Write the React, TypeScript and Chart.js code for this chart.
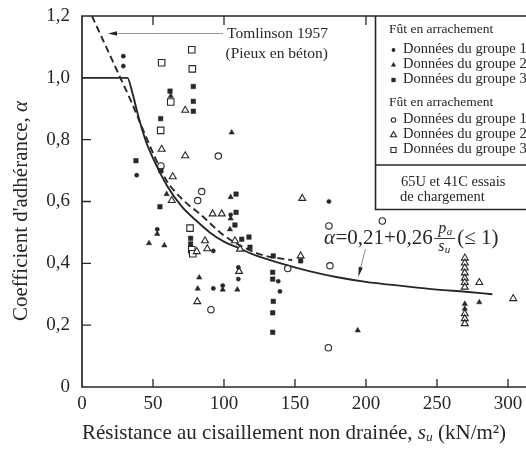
import React, { useEffect, useRef } from 'react';
import { Chart, registerables } from 'chart.js';

Chart.register(...registerables);

const FONT = "'Liberation Serif', 'Times New Roman', 'DejaVu Serif', serif";
const INK = '#272727';

// axis ticks
const xTickValues = [0, 50, 100, 150, 200, 250, 300];
const yTickValues = [0, 0.2, 0.4, 0.6, 0.8, 1.0, 1.2];

// Group 1 (filled circles)
const g1FilledX = [29.1, 29.1, 38.5, 53, 92.5, 99.1, 104.7, 110.1, 110.1, 138.2, 139.4, 173.9, 92.5];
const g1FilledY = [1.07, 1.038, 0.685, 0.51, 0.319, 0.328, 0.557, 0.387, 0.349, 0.342, 0.309, 0.6, 0.44];

// Group 2 (filled triangles)
const g2FilledX = [47.2, 53, 58, 59.6, 62.5, 105.4, 104.7, 104.2, 104.7, 82.6, 81.5, 99.1, 109.4, 194.2, 279.8, 269.6, 269.6];
const g2FilledY = [0.465, 0.495, 0.458, 0.624, 0.941, 0.823, 0.614, 0.51, 0.545, 0.354, 0.318, 0.315, 0.315, 0.183, 0.274, 0.269, 0.253];

// Group 3 (filled squares)
const g3FilledX = [38, 55.4, 55.6, 54.9, 62, 78.4, 78.4, 78.4, 76.5, 76.5, 108.5, 108.5, 107.7, 112.5, 117.6, 118.3, 134.7, 134.3, 134.3, 134.7, 134.3, 134.3, 154];
const g3FilledY = [0.732, 0.868, 0.7, 0.583, 0.957, 0.972, 0.924, 0.892, 0.481, 0.463, 0.624, 0.565, 0.524, 0.478, 0.485, 0.452, 0.424, 0.371, 0.349, 0.277, 0.24, 0.177, 0.408];

// Group 1 (open circles)
const g1OpenX = [96, 84.3, 81.5, 55.6, 90.8, 173.9, 211.5, 174.6, 144.9, 173.5];
const g1OpenY = [0.747, 0.632, 0.603, 0.715, 0.25, 0.521, 0.537, 0.392, 0.383, 0.127];

// Group 2 (open triangles)
const g2OpenX = [72.7, 56.1, 72.7, 63.9, 63.2, 92, 98.4, 107.7, 111.3, 80.8, 86.6, 88.2, 81.2, 110.6, 155.1, 154, 279.8, 303.7,
  269.6, 269.6, 269.6, 269.6, 269.6, 269.6, 269.6, 269.6, 269.6, 269.6];
const g2OpenY = [0.895, 0.769, 0.748, 0.68, 0.603, 0.56, 0.56, 0.473, 0.446, 0.438, 0.473, 0.447, 0.276, 0.374, 0.61, 0.424, 0.338, 0.286,
  0.417, 0.401, 0.385, 0.369, 0.352, 0.338, 0.323, 0.237, 0.221, 0.205];

// Group 3 (open squares)
const g3OpenX = [77.3, 77.7, 56.1, 62.5, 55.4, 76.1, 77.3, 78];
const g3OpenY = [1.091, 1.029, 1.049, 0.922, 0.83, 0.514, 0.444, 0.431];

// Solid curve alpha = 0.21 + 0.26 pa/su (<= 1)
const curveX = [0, 32, 35, 40, 45, 50, 60, 70, 80, 90, 100, 110, 120, 140, 160, 180, 200, 225, 250, 270, 289];
const curveY = [1.0, 1.0, 0.96, 0.87, 0.795, 0.74, 0.65, 0.585, 0.54, 0.5, 0.47, 0.45, 0.43, 0.4, 0.375, 0.355, 0.34, 0.327, 0.315, 0.308, 0.3];

// Tomlinson 1957 dashed curve
const tomX = [7, 17, 27, 35, 45, 59, 70, 84, 100, 125, 148];
const tomY = [1.2, 1.1, 1.0, 0.92, 0.81, 0.672, 0.61, 0.556, 0.49, 0.43, 0.41];

const zip = (xs: number[], ys: number[]) => xs.map((x, i) => ({ x, y: ys[i] }));

type Shape = 'circle' | 'triangle' | 'rect';

function mark(ctx: CanvasRenderingContext2D, shape: Shape, filled: boolean, cx: number, cy: number, r: number) {
  ctx.beginPath();
  if (shape === 'circle') {
    ctx.arc(cx, cy, r, 0, Math.PI * 2);
  } else if (shape === 'triangle') {
    ctx.moveTo(cx, cy - r);
    ctx.lineTo(cx + r * 0.866, cy + r * 0.5);
    ctx.lineTo(cx - r * 0.866, cy + r * 0.5);
    ctx.closePath();
  } else {
    const s = r * Math.SQRT1_2;
    ctx.rect(cx - s, cy - s, 2 * s, 2 * s);
  }
  if (filled) {
    ctx.fillStyle = INK;
    ctx.fill();
  } else {
    ctx.fillStyle = '#fff';
    ctx.fill();
    ctx.lineWidth = 1.1;
    ctx.strokeStyle = INK;
    ctx.stroke();
  }
}

function arrowHead(ctx: CanvasRenderingContext2D, tx: number, ty: number, fx: number, fy: number, len: number, half: number) {
  const dx = tx - fx, dy = ty - fy;
  const d = Math.hypot(dx, dy);
  const ux = dx / d, uy = dy / d;
  const bx = tx - ux * len, by = ty - uy * len;
  ctx.beginPath();
  ctx.moveTo(tx, ty);
  ctx.lineTo(bx - uy * half, by + ux * half);
  ctx.lineTo(bx + uy * half, by - ux * half);
  ctx.closePath();
  ctx.fillStyle = INK;
  ctx.fill();
}

function runs(ctx: CanvasRenderingContext2D, parts: { t: string; f: string; dy?: number }[], x: number, y: number, align: 'center' | 'left') {
  let total = 0;
  for (const p of parts) { ctx.font = p.f; total += ctx.measureText(p.t).width; }
  let cx = align === 'center' ? x - total / 2 : x;
  for (const p of parts) {
    ctx.font = p.f;
    ctx.fillText(p.t, cx, y + (p.dy || 0));
    cx += ctx.measureText(p.t).width;
  }
  return total;
}

const decor = {
  id: 'decor',
  afterDatasetsDraw(chart: any) {
    const { ctx, chartArea: a, scales } = chart;
    const xs = scales.x, ys = scales.y;
    ctx.save();
    ctx.strokeStyle = INK;
    ctx.fillStyle = INK;

    // frame
    ctx.lineWidth = 1.7;
    ctx.beginPath();
    ctx.moveTo(a.right + 2, a.top);
    ctx.lineTo(a.left, a.top);
    ctx.lineTo(a.left, a.bottom);
    ctx.lineTo(a.right + 2, a.bottom);
    ctx.stroke();

    // inner ticks
    ctx.lineWidth = 1.3;
    ctx.beginPath();
    for (const v of [50, 100, 150, 200, 250, 300]) {
      const px = xs.getPixelForValue(v);
      ctx.moveTo(px, a.bottom);
      ctx.lineTo(px, a.bottom - 8);
    }
    for (const v of [50, 100, 200]) {
      const px = xs.getPixelForValue(v);
      ctx.moveTo(px, a.top);
      ctx.lineTo(px, a.top + 9);
    }
    for (const v of [0.2, 0.4, 0.6, 0.8]) {
      const py = ys.getPixelForValue(v);
      ctx.moveTo(a.left, py);
      ctx.lineTo(a.left + 9, py);
    }
    ctx.stroke();

    // legend box
    const L = 375.5, R = a.right + 2;
    ctx.fillStyle = '#fff';
    ctx.fillRect(L, a.top + 1, R - L, 209 - a.top);
    ctx.lineWidth = 1.6;
    ctx.strokeStyle = INK;
    ctx.beginPath();
    ctx.moveTo(L, a.top);
    ctx.lineTo(L, 209.5);
    ctx.lineTo(R, 209.5);
    ctx.moveTo(L, 165);
    ctx.lineTo(R, 165);
    ctx.stroke();

    ctx.fillStyle = INK;
    ctx.textBaseline = 'middle';
    ctx.textAlign = 'left';
    const hdr = `13.5px ${FONT}`;
    const ent = `14.5px ${FONT}`;
    ctx.font = hdr;
    ctx.fillText('Fût en arrachement', 389, 29.5);
    ctx.fillText('Fût en arrachement', 389, 102.5);
    const rows: [Shape, boolean, string, number, number][] = [
      ['circle', true, 'Données du groupe 1', 49.5, 1.9],
      ['triangle', true, 'Données du groupe 2', 64.5, 3],
      ['rect', true, 'Données du groupe 3', 79.5, 3],
      ['circle', false, 'Données du groupe 1', 119.5, 2.2],
      ['triangle', false, 'Données du groupe 2', 134.5, 3.5],
      ['rect', false, 'Données du groupe 3', 149.5, 3.6],
    ];
    for (const [s, f, t, y, r] of rows) {
      mark(ctx, s, f, 393.5, y + 0.5, r);
      ctx.fillStyle = INK;
      ctx.font = ent;
      ctx.fillText(t, 403, y);
    }
    ctx.font = ent;
    ctx.fillText('65U et 41C essais', 401, 182);
    ctx.fillText('de chargement', 400, 197);

    // Tomlinson annotation
    ctx.font = `15.5px ${FONT}`;
    ctx.fillText('Tomlinson 1957', 227, 34);
    ctx.fillText('(Pieux en béton)', 225.5, 53.5);
    ctx.strokeStyle = '#9a9a9a';
    ctx.lineWidth = 1;
    ctx.beginPath();
    ctx.moveTo(223, 33.5);
    ctx.lineTo(114, 33.5);
    ctx.stroke();
    arrowHead(ctx, 108, 33.5, 200, 33.5, 9, 2.2);

    // equation
    ctx.fillStyle = INK;
    const big = `21px ${FONT}`;
    const bigI = `italic 21px ${FONT}`;
    const sm = `italic 16px ${FONT}`;
    const smS = `italic 11px ${FONT}`;
    let ex = 324;
    const ey = 238;
    ctx.font = bigI; ctx.fillText('α', ex, ey); ex += ctx.measureText('α').width + 0.5;
    ctx.font = big; ctx.fillText('=0,21+0,26', ex, ey); ex += ctx.measureText('=0,21+0,26').width + 1.5;
    const fracL = ex, fracW = 21;
    ctx.strokeStyle = INK;
    ctx.lineWidth = 0.9;
    ctx.beginPath();
    ctx.moveTo(fracL, ey + 0.5);
    ctx.lineTo(fracL + fracW, ey + 0.5);
    ctx.stroke();
    ctx.font = sm; ctx.fillText('p', fracL + 4, ey - 9.5);
    ctx.font = smS; ctx.fillText('a', fracL + 12.5, ey - 6);
    ctx.font = sm; ctx.fillText('s', fracL + 4, ey + 9);
    ctx.font = smS; ctx.fillText('u', fracL + 10.5, ey + 12);
    ctx.font = big; ctx.fillText('(≤ 1)', fracL + fracW + 2, ey);
    ctx.strokeStyle = '#8a8a8a';
    ctx.lineWidth = 1;
    ctx.beginPath();
    ctx.moveTo(365.5, 249);
    ctx.lineTo(360, 270);
    ctx.stroke();
    arrowHead(ctx, 358.3, 277, 365.5, 249, 10, 2.1);

    // axis titles
    ctx.fillStyle = INK;
    ctx.textBaseline = 'middle';
    runs(ctx, [
      { t: 'Résistance au cisaillement non drainée, ', f: `21px ${FONT}` },
      { t: 's', f: `italic 21px ${FONT}` },
      { t: 'u', f: `italic 13.5px ${FONT}`, dy: 4.5 },
      { t: ' (kN/m²)', f: `21px ${FONT}` },
    ], 294, 433, 'center');

    ctx.save();
    ctx.translate(21, 211);
    ctx.rotate(-Math.PI / 2);
    runs(ctx, [
      { t: "Coefficient d'adhérance, ", f: `21px ${FONT}` },
      { t: 'α', f: `italic 21px ${FONT}` },
    ], 0, 0, 'center');
    ctx.restore();

    ctx.restore();
  },
};

const pt = (data: { x: number; y: number }[], style: Shape, filled: boolean, r: number) => ({
  type: 'scatter' as const,
  data,
  pointStyle: style,
  pointRadius: r,
  pointHoverRadius: r,
  pointBackgroundColor: filled ? INK : '#ffffff',
  pointBorderColor: INK,
  pointBorderWidth: filled ? 0.5 : 1.1,
  showLine: false,
});

export default function App() {
  const ref = useRef<HTMLCanvasElement>(null);
  useEffect(() => {
    document.body.style.margin = '0';
    const chart = new Chart(ref.current!, {
      type: 'scatter',
      data: {
        datasets: [
          pt(zip(g1FilledX, g1FilledY), 'circle', true, 2.1),
          pt(zip(g2FilledX, g2FilledY), 'triangle', true, 3.1),
          pt(zip(g3FilledX, g3FilledY), 'rect', true, 3.2),
          pt(zip(g1OpenX, g1OpenY), 'circle', false, 3.2),
          pt(zip(g2OpenX, g2OpenY), 'triangle', false, 4),
          pt(zip(g3OpenX, g3OpenY), 'rect', false, 4.6),
          {
            type: 'line' as const,
            data: zip(curveX, curveY),
            borderColor: INK,
            borderWidth: 1.9,
            pointRadius: 0,
            showLine: true,
            fill: false,
            cubicInterpolationMode: 'monotone' as const,
          },
          {
            type: 'line' as const,
            data: zip(tomX, tomY),
            borderColor: INK,
            borderWidth: 1.9,
            borderDash: [7, 4],
            pointRadius: 0,
            showLine: true,
            fill: false,
            cubicInterpolationMode: 'monotone' as const,
          },
        ] as any,
      },
      options: {
        responsive: false,
        animation: false,
        devicePixelRatio: 1,
        layout: { autoPadding: false, padding: { top: 16, right: 0, left: 0, bottom: 0 } },
        plugins: { legend: { display: false }, tooltip: { enabled: false } },
        scales: {
          x: {
            type: 'linear',
            min: 0,
            max: 312.7,
            grid: { display: false, drawTicks: false },
            border: { display: false },
            afterBuildTicks: (s: any) => { s.ticks = xTickValues.map((v) => ({ value: v })); },
            afterFit: (s: any) => { s.height = 62; s.paddingLeft = 0; s.paddingRight = 0; },
            ticks: {
              padding: 6,
              maxRotation: 0,
              autoSkip: false,
              color: INK,
              font: { family: FONT, size: 19 },
              callback: (v: any) => String(v),
            },
          },
          y: {
            type: 'linear',
            min: 0,
            max: 1.2,
            grid: { display: false, drawTicks: false },
            border: { display: false },
            afterBuildTicks: (s: any) => { s.ticks = yTickValues.map((v) => ({ value: v })); },
            afterFit: (s: any) => { s.width = 82; s.paddingTop = 0; s.paddingBottom = 0; },
            ticks: {
              padding: 12,
              color: INK,
              font: { family: FONT, size: 19 },
              callback: (v: any) => (Number(v) === 0 ? '0' : Number(v).toFixed(1).replace('.', ',')),
            },
          },
        },
      } as any,
      plugins: [decor],
    });
    return () => chart.destroy();
  }, []);
  return (
    <div style={{ position: 'fixed', left: 0, top: 0, width: 526, height: 449, background: '#fff' }}>
      <canvas ref={ref} width={526} height={449} style={{ display: 'block' }} />
    </div>
  );
}
